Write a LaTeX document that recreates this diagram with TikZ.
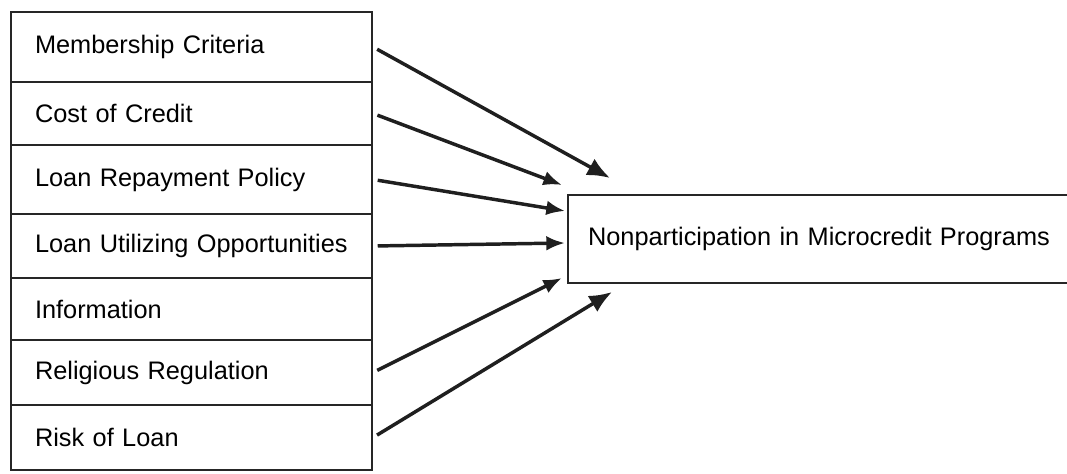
\documentclass[tikz,border=0pt]{standalone}
\usepackage{fontspec}
\setmainfont{Liberation Sans}
\usetikzlibrary{arrows.meta}
\tikzset{
BOX/.style ={draw=black!85,line width=1.6pt,text width=234.75pt,inner xsep=18pt,inner ysep=0pt,align=left,minimum height=#1,font=\fontsize{19}{22}\selectfont},
GOAL/.style={draw=black!85,line width=1.6pt,text width=360pt,inner xsep=15pt,inner ysep=0pt,align=left,minimum height=66pt,font=\fontsize{19}{22}\selectfont},
ARROW/.style ={draw=black!88,line width=2.6pt,shorten <=3.5pt,-{Latex[length=14pt,width=11pt]}},
BIGARROW/.style ={ARROW,-{Latex[length=17pt,width=14pt]}},
}
\begin{document}
\begin{tikzpicture}[x=0.75pt,y=-0.75pt]
	\useasboundingbox (0,0) rectangle (1067,474);
	\clip (0,0) rectangle (1067,474);
	%factors
	\node[BOX=52.5pt]  (mem)  at (191.5,47)    {Membership Criteria};
	\node[BOX=47.25pt] (cost) at (191.5,113.5) {Cost of Credit};
	\node[BOX=51.75pt] (rep)  at (191.5,179.5) {Loan Repayment Policy};
	\node[BOX=48pt]    (use)  at (191.5,246)   {Loan Utilizing Opportunities};
	\node[BOX=46.5pt]  (info) at (191.5,309)   {Information};
	\node[BOX=48.75pt] (rel)  at (191.5,372.5) {Religious Regulation};
	\node[BOX=48.75pt] (risk) at (191.5,437.5) {Risk of Loan};
	%outcome
	\node[GOAL,anchor=west] (np) at (567,239) {Nonparticipation in Microcredit Programs};
	\coordinate (t1) at (610,178);
	\coordinate (t2) at (562,185);
	\coordinate (t3) at (565,211);
	\coordinate (t4) at (565,243);
	\coordinate (t6) at (562,278);
	\coordinate (t7) at (612,292);
	\path[BIGARROW] (mem.east) -- (t1);
	\path[ARROW] (cost.east) -- (t2);
	\path[ARROW] (rep.east) -- (t3);
	\path[ARROW] (use.east) -- (t4);
	\path[ARROW] (rel.east) -- (t6);
	\path[BIGARROW] (risk.east) -- (t7);
\end{tikzpicture}
\end{document}
